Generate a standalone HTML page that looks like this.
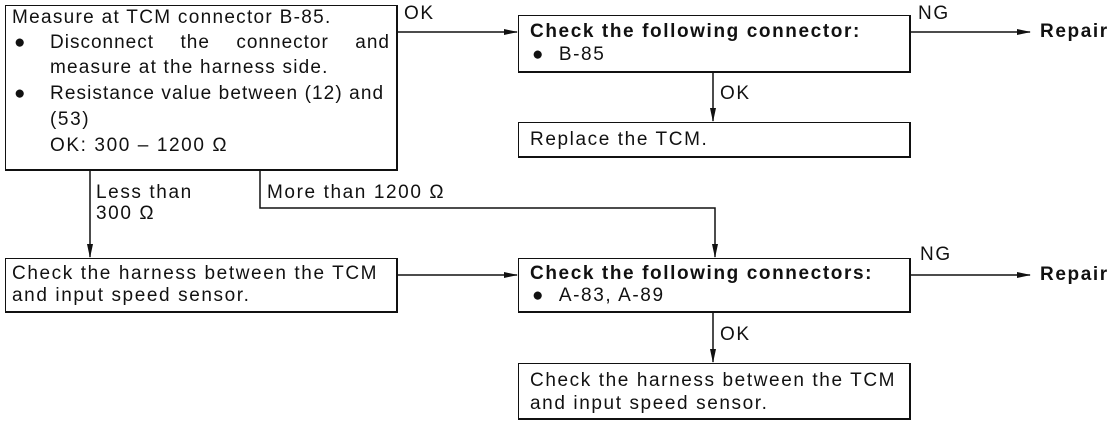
<!DOCTYPE html>
<html><head><style>
body{margin:0;background:#fff;}
#c{position:relative;width:1120px;height:430px;overflow:hidden;font-family:"Liberation Sans",sans-serif;font-size:19px;letter-spacing:1.6px;color:#111;}
.b{position:absolute;border:1.5px solid #111;border-right-width:2px;border-bottom-width:2px;box-sizing:border-box;}
.t{position:absolute;white-space:nowrap;line-height:20px;}
.j{text-align:justify;text-align-last:justify;white-space:normal;letter-spacing:1px;}
.bd{font-weight:bold;}
</style></head><body><div id="c">
<svg width="1120" height="430" style="position:absolute;left:0;top:0">
<defs><marker id="a" markerWidth="14" markerHeight="8" refX="13" refY="4" orient="auto" markerUnits="userSpaceOnUse"><path d="M0,1 L14,4 L0,7 Z" fill="#111"/></marker></defs>
<g stroke="#111" stroke-width="1.5" fill="none">
<line x1="397" y1="32" x2="517" y2="32" marker-end="url(#a)"/>
<line x1="910" y1="32" x2="1030" y2="32" marker-end="url(#a)"/>
<line x1="713" y1="72" x2="713" y2="121" marker-end="url(#a)"/>
<line x1="90" y1="170" x2="90" y2="257" marker-end="url(#a)"/>
<polyline points="260,170 260,208 715,208 715,257" marker-end="url(#a)"/>
<line x1="397" y1="275" x2="517" y2="275" marker-end="url(#a)"/>
<line x1="910" y1="275" x2="1030" y2="275" marker-end="url(#a)"/>
<line x1="713" y1="312" x2="713" y2="362" marker-end="url(#a)"/>
</g></svg>
<div class="b" style="left:5px;top:5px;width:393px;height:166px"></div>
<div class="t" style="left:12px;top:8px;letter-spacing:1.3px">Measure at TCM connector B-85.</div>
<div class="t" style="left:14px;top:33px">●</div>
<div class="t j" style="left:50px;top:33px;width:340px">Disconnect the connector and</div>
<div class="t" style="left:50px;top:58px;letter-spacing:1.2px">measure at the harness side.</div>
<div class="t" style="left:14px;top:84px">●</div>
<div class="t" style="left:50px;top:84px;letter-spacing:1.1px">Resistance value between (12) and</div>
<div class="t" style="left:50px;top:110px">(53)</div>
<div class="t" style="left:50px;top:136px">OK: 300 – 1200 Ω</div>
<div class="t" style="left:404px;top:4px">OK</div>
<div class="b" style="left:518px;top:15px;width:393px;height:58px"></div>
<div class="t bd" style="left:530px;top:22px">Check the following connector:</div>
<div class="t" style="left:532px;top:45px">●&nbsp;&nbsp;B-85</div>
<div class="t" style="left:918px;top:4px">NG</div>
<div class="t bd" style="left:1040px;top:22px">Repair</div>
<div class="t" style="left:720px;top:84px">OK</div>
<div class="b" style="left:518px;top:122px;width:393px;height:36px"></div>
<div class="t" style="left:530px;top:130px">Replace the TCM.</div>
<div class="t" style="left:96px;top:183px">Less than</div>
<div class="t" style="left:96px;top:204px">300 Ω</div>
<div class="t" style="left:267px;top:183px">More than 1200 Ω</div>
<div class="b" style="left:5px;top:258px;width:393px;height:55px"></div>
<div class="t" style="left:12px;top:264px">Check the harness between the TCM</div>
<div class="t" style="left:12px;top:286px">and input speed sensor.</div>
<div class="b" style="left:518px;top:258px;width:393px;height:55px"></div>
<div class="t bd" style="left:530px;top:264px">Check the following connectors:</div>
<div class="t" style="left:532px;top:286px">●&nbsp;&nbsp;A-83, A-89</div>
<div class="t" style="left:920px;top:245px">NG</div>
<div class="t bd" style="left:1040px;top:265px">Repair</div>
<div class="t" style="left:720px;top:325px">OK</div>
<div class="b" style="left:518px;top:363px;width:393px;height:57px"></div>
<div class="t" style="left:530px;top:371px">Check the harness between the TCM</div>
<div class="t" style="left:530px;top:394px">and input speed sensor.</div>
</div></body></html>
